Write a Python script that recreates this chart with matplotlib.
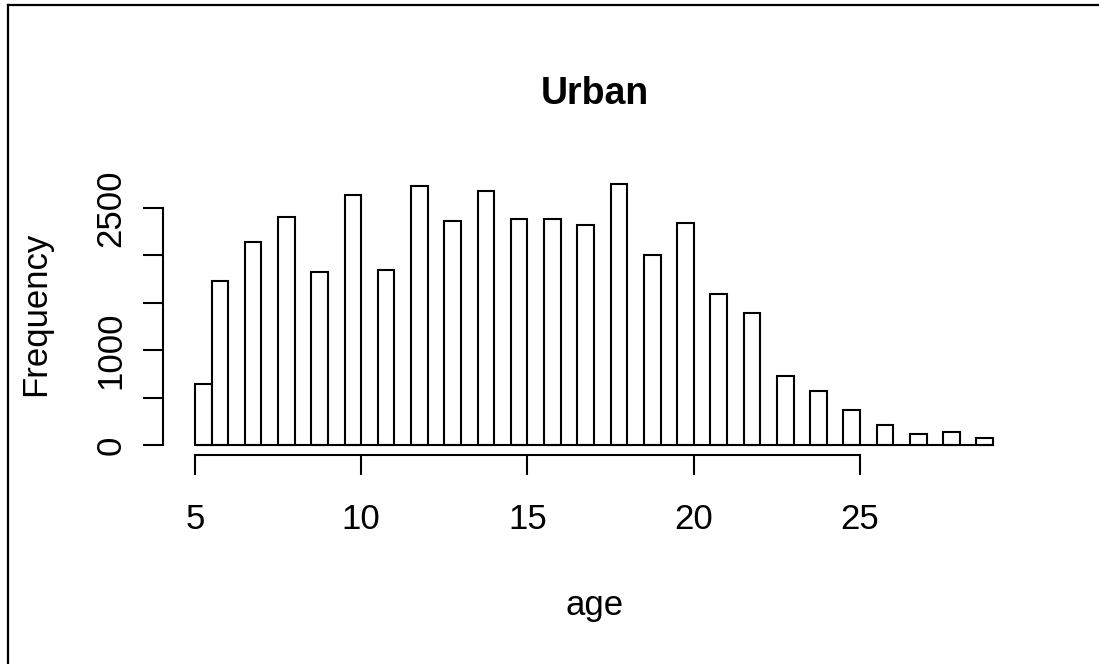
import matplotlib
matplotlib.use("Agg")
import matplotlib.pyplot as plt
from matplotlib.lines import Line2D

plt.rcParams['font.family'] = ['Liberation Sans', 'DejaVu Sans']

# Data: counts per age (histogram of ages, R-style 0.5-wide bins)
ages = [5, 6, 7, 8, 9, 10, 11, 12, 13, 14, 15, 16, 17, 18, 19, 20, 21, 22,
        23, 24, 25, 26, 27, 28, 29]
counts = [640, 1728, 2139, 2405, 1819, 2637, 1844, 2729, 2363, 2679, 2384,
          2384, 2318, 2750, 1998, 2339, 1588, 1387, 727, 572, 369, 207, 116,
          137, 74]
x_ticks = [5, 10, 15, 20, 25]
y_ticks = [0, 500, 1000, 1500, 2000, 2500]
y_tick_labels = ['0', '', '1000', '', '', '2500']
bin_width = 0.5

W, H = 1099, 664
fig = plt.figure(figsize=(W / 100, H / 100), dpi=100)

ax = fig.add_axes([163 / W, (H - 455.4) / H, 862 / W, 281.8 / H])

# R hist bins are right-closed (a, b]; the lowest includes its left edge
lefts = [a if a == min(ages) else a - bin_width for a in ages]
ax.bar(lefts, counts, width=bin_width, align='edge', facecolor='white',
       edgecolor='black', linewidth=1.5)
# empty bins are drawn by R as zero-height rectangles -> baseline
ax.hlines(0, min(lefts), max(lefts) + bin_width, color='black', lw=1.5)

ax.set_xlim(4.04, 29.96)
ax.set_ylim(-110, 2860)

for s in ['top', 'right']:
    ax.spines[s].set_visible(False)
ax.spines['bottom'].set_bounds(5, 25)
ax.spines['left'].set_bounds(0, 2500)
for s in ['bottom', 'left']:
    ax.spines[s].set_linewidth(1.5)

ax.set_xticks(x_ticks)
ax.set_xticklabels([str(v) for v in x_ticks])
ax.set_yticks(y_ticks)
ax.set_yticklabels(y_tick_labels, rotation=90, va='center')
ax.tick_params(axis='both', direction='out', length=14.4, width=1.5,
               labelsize=25)
ax.tick_params(axis='x', pad=20)
ax.tick_params(axis='y', pad=11)

fig.text(595 / W, 1 - 94 / H, 'Urban', fontsize=27, fontweight='bold',
         ha='center', va='center')
fig.text(595 / W, 1 - 605 / H, 'age', fontsize=25, ha='center', va='center')
fig.text(36 / W, 1 - 314 / H, 'Frequency', fontsize=25, rotation=90,
         ha='center', va='center')

# outer frame (left and top edges visible)
fig.add_artist(Line2D([7.5 / W, 7.5 / W], [0, 1 - 4.5 / H],
                      transform=fig.transFigure, color='black', lw=1.6))
fig.add_artist(Line2D([7.5 / W, 1], [1 - 4.5 / H, 1 - 4.5 / H],
                      transform=fig.transFigure, color='black', lw=1.6))

fig.savefig('out.png', dpi=100, facecolor='white')
